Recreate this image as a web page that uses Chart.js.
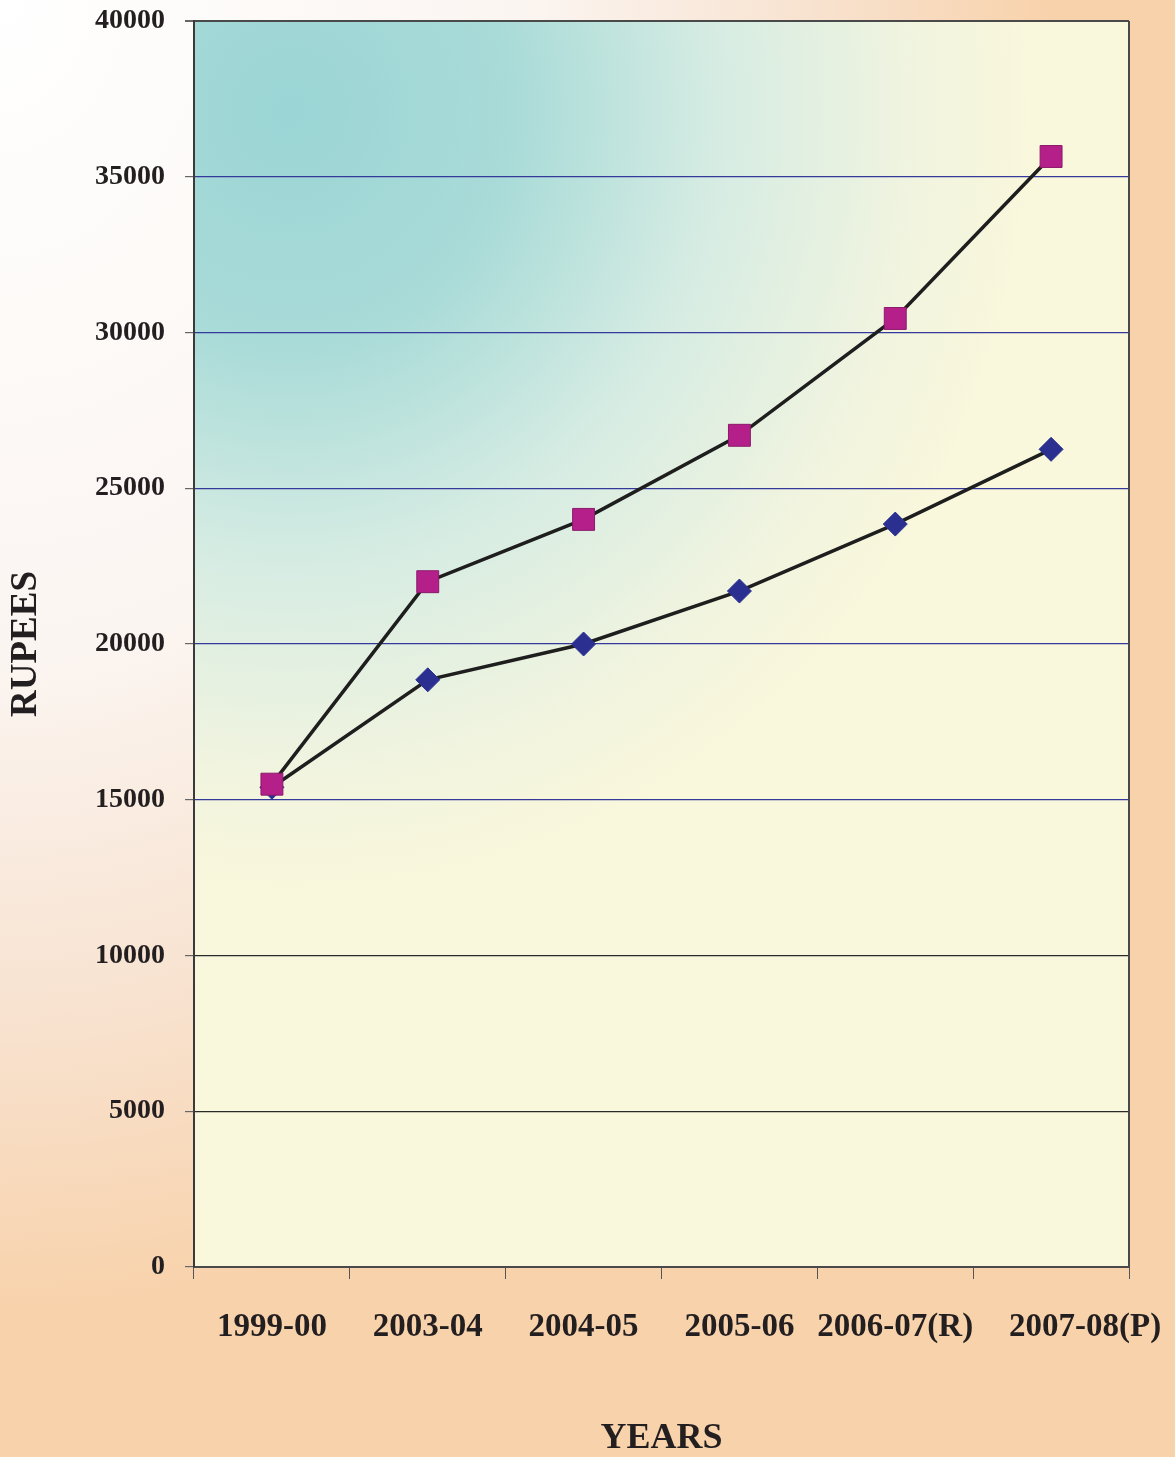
<!DOCTYPE html>
<html lang="en">
<head>
  <meta charset="UTF-8" />
  <title>Rupees by year</title>
  <script src="https://cdn.jsdelivr.net/npm/chart.js"></script>
  <style>
    body {
      margin: 0;
      padding: 0;
      background: #f8d3ad;
    }
    #wrap {
      width: 1175px;
      height: 1457px;
    }
  </style>
</head>
<body>
  <div id="wrap">
    <canvas id="rupeeChart" width="1175" height="1457"></canvas>
  </div>
  <script>
    const years = ['1999-00', '2003-04', '2004-05', '2005-06', '2006-07(R)', '2007-08(P)'];
    const squareSeries = [15500, 22000, 24000, 26700, 30450, 35650];
    const diamondSeries = [15400, 18850, 20000, 21700, 23850, 26250];
    const yTicks = [0, 5000, 10000, 15000, 20000, 25000, 30000, 35000, 40000];

    const serif = "'Liberation Serif', 'Times New Roman', serif";

    // page + plot area backgrounds
    const backgrounds = {
      id: 'backgrounds',
      beforeDraw(chart) {
        const ctx = chart.ctx;
        const w = chart.width, h = chart.height;
        ctx.save();
        ctx.scale(1, 1.25);
        let g = ctx.createRadialGradient(0, 0, 0, 0, 0, 1050);
        g.addColorStop(0, '#ffffff');
        g.addColorStop(0.5, '#fbf5f1');
        g.addColorStop(0.78, '#f8e2cf');
        g.addColorStop(1, '#f8d2ab');
        ctx.fillStyle = g;
        ctx.fillRect(0, 0, w, h / 1.25);
        ctx.restore();

        const a = chart.chartArea;
        ctx.save();
        ctx.beginPath();
        ctx.rect(a.left, a.top, a.right - a.left, a.bottom - a.top);
        ctx.clip();
        ctx.translate(290, 110);
        ctx.scale(0.95, 1);
        g = ctx.createRadialGradient(0, 0, 0, 0, 0, 780);
        g.addColorStop(0, '#9bd5d5');
        g.addColorStop(0.3, '#a9dbd8');
        g.addColorStop(0.58, '#d6ece3');
        g.addColorStop(0.85, '#f1f4df');
        g.addColorStop(1, '#f9f7dc');
        ctx.fillStyle = g;
        ctx.fillRect(-400, -200, 1400, 1500);
        ctx.restore();

        // last category label sits a bit to the right in the original
        const items = chart.scales.x.getLabelItems();
        const last = items[items.length - 1];
        if (last && !last.nudged) {
          last.options.translation = [last.options.translation[0] + 34, last.options.translation[1]];
          last.nudged = true;
        }
      },
      afterDraw(chart) {
        const a = chart.chartArea;
        const ctx = chart.ctx;
        ctx.save();
        ctx.strokeStyle = '#4a4a4a';
        ctx.lineWidth = 2;
        ctx.beginPath();
        ctx.moveTo(a.right, a.top);
        ctx.lineTo(a.right, a.bottom);
        ctx.stroke();
        ctx.restore();
      }
    };

    new Chart(document.getElementById('rupeeChart'), {
      type: 'line',
      data: {
        labels: years,
        datasets: [
          {
            label: 'Series 2',
            data: squareSeries,
            borderColor: '#1e1e1e',
            borderWidth: 3.5,
            pointStyle: 'rect',
            pointRadius: 15.5,
            pointBackgroundColor: '#b51f8a',
            pointBorderColor: '#8a1a6a',
            pointBorderWidth: 1,
            tension: 0
          },
          {
            label: 'Series 1',
            data: diamondSeries,
            borderColor: '#1e1e1e',
            borderWidth: 3.5,
            pointStyle: 'rectRot',
            pointRadius: 12,
            pointBackgroundColor: '#2b3090',
            pointBorderColor: '#2b3090',
            pointBorderWidth: 1,
            tension: 0
          }
        ]
      },
      options: {
        responsive: false,
        animation: false,
        layout: { padding: { top: 21, right: 46, left: 0, bottom: 0 } },
        plugins: {
          legend: { display: false },
          tooltip: { enabled: false }
        },
        scales: {
          x: {
            offset: true,
            afterFit(scale) {
              scale.height = 190;
              scale.paddingLeft = 0;
              scale.paddingRight = 0;
            },
            grid: {
              drawOnChartArea: false,
              offset: true,
              tickLength: 12,
              tickColor: '#555555'
            },
            border: { color: '#4a4a4a', width: 2 },
            ticks: {
              color: '#231f20',
              padding: 29,
              maxRotation: 0,
              autoSkip: false,
              font: { family: serif, size: 33, weight: 'bold' }
            },
            title: {
              display: true,
              text: 'YEARS',
              color: '#231f20',
              padding: { top: 0, bottom: 0 },
              font: { family: serif, size: 36, weight: 'bold', lineHeight: 1 }
            }
          },
          y: {
            min: 0,
            max: 40000,
            afterFit(scale) {
              scale.width = 194;
              scale.paddingTop = 0;
              scale.paddingBottom = 0;
            },
            afterBuildTicks(scale) {
              scale.ticks = yTicks.map(v => ({ value: v }));
            },
            grid: {
              color: ctx => {
                const v = ctx.tick ? ctx.tick.value : 0;
                if (v === 40000) return '#4a4a4a';
                if (v === 5000 || v === 10000) return '#2a2a2a';
                return '#34399a';
              },
              lineWidth: ctx => (ctx.tick && ctx.tick.value === 40000 ? 2 : 1.2),
              tickLength: 9,
              tickColor: '#666666'
            },
            border: { color: '#3a3a3a', width: 2 },
            ticks: {
              color: '#231f20',
              padding: 20,
              font: { family: serif, size: 28, weight: 'bold' },
              callback: v => String(v)
            },
            title: {
              display: true,
              text: 'RUPEES',
              color: '#231f20',
              padding: { top: 8, bottom: 0 },
              font: { family: serif, size: 37, weight: 'bold', lineHeight: 1 }
            }
          }
        }
      },
      plugins: [backgrounds]
    });
  </script>
</body>
</html>
